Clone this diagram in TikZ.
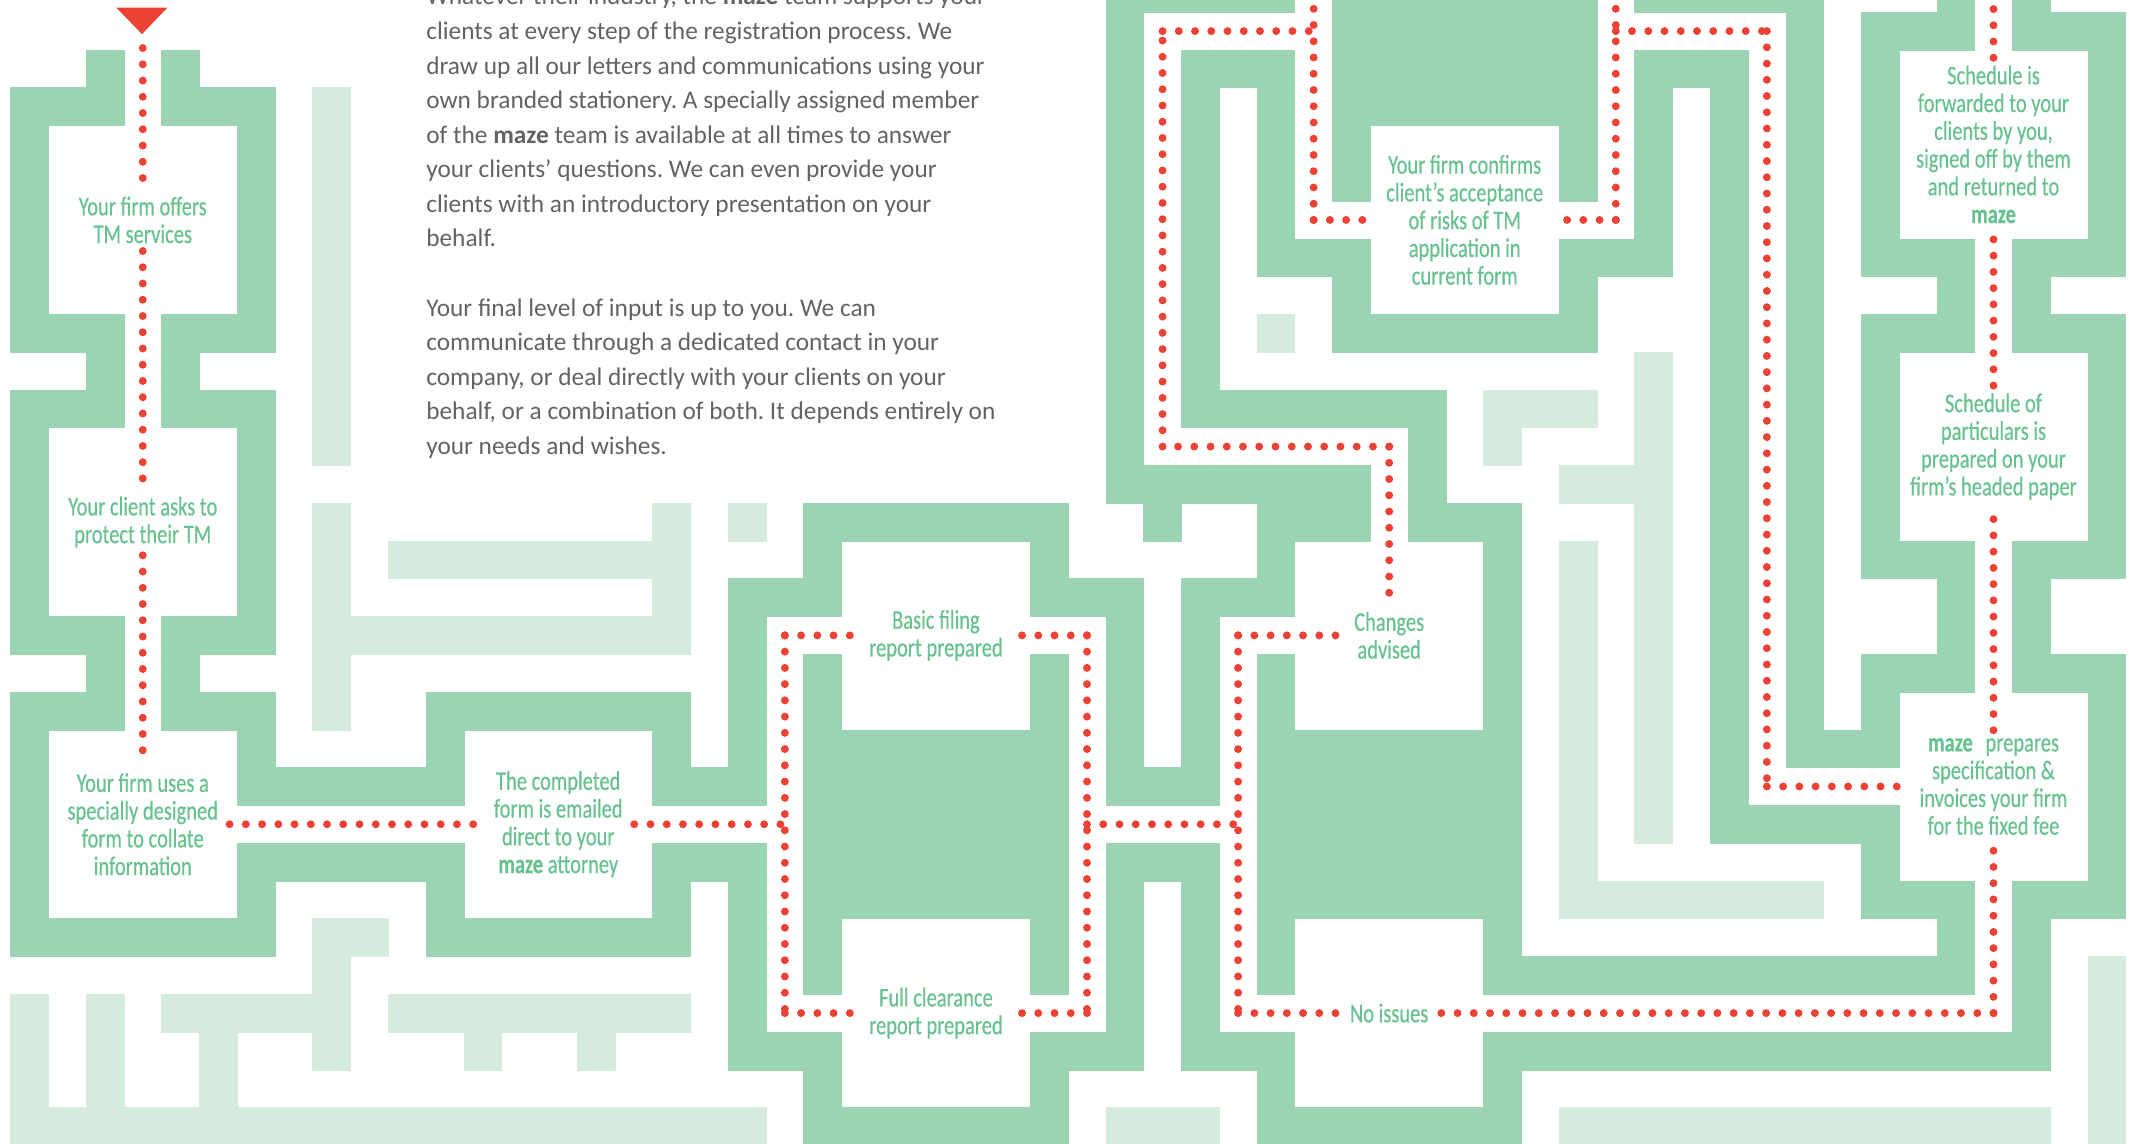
\documentclass[tikz,border=0pt]{standalone}
\usepackage{fontspec}
\setmainfont{Carlito}
\newfontfamily\labfam[FakeStretch=0.76,FakeBold=0.45]{Carlito}
\newfontfamily\bodyfam{Carlito}
\definecolor{dg}{RGB}{155,212,179}
\definecolor{lg}{RGB}{213,235,222}
\definecolor{rd}{RGB}{236,65,53}
\definecolor{tg}{RGB}{104,194,143}
\definecolor{bodygray}{RGB}{98,99,103}
\tikzset{
  wall/.style={fill=dg, draw=dg, line width=0.4pt},
  faint/.style={fill=lg, draw=lg, line width=0.4pt},
  route/.style={draw=rd, line width=0.21cm, line cap=round, dash pattern=on 0pt off 0.43cm},
  lab/.style={font=\labfam\fontsize{20.3}{20.9}\selectfont, text=tg, align=center, inner xsep=0.3cm, inner ysep=0.2cm},
  body/.style={font=\bodyfam\fontsize{19.1}{26}\selectfont, text=bodygray, anchor=base west, inner sep=0pt},
}
\frenchspacing
\begin{document}
\begin{tikzpicture}[x=1cm,y=-1cm]
\useasboundingbox (-0.28,-0.323) rectangle (56.353,29.965);
\fill[white] (-0.28,-0.323) rectangle (56.353,29.965);
\clip (-0.28,-0.323) rectangle (56.353,29.965);

% light green blocks
\foreach \r/\runs in {
 2/{8/9}, 3/{8/9}, 4/{8/9}, 5/{8/9}, 6/{8/9}, 7/{8/9},
 8/{8/9,33/34}, 9/{8/9,43/44}, 10/{8/9,39/42,43/44}, 11/{8/9,39/40,43/44},
 12/{41/44}, 13/{8/9,17/18,19/20,43/44}, 14/{8/9,10/18,41/42,43/44},
 15/{8/9,17/18,41/42,43/44}, 16/{8/18,41/42,43/44}, 17/{8/9,41/42,43/44},
 18/{8/9,41/42,43/44}, 19/{41/42,43/44}, 20/{41/42,43/44}, 21/{41/42,43/44},
 22/{41/42}, 23/{41/48}, 24/{8/10}, 25/{8/9,55/56},
 26/{0/1,2/3,4/9,10/18,55/56}, 27/{0/1,2/3,5/6,8/9,12/13,15/16,55/56},
 28/{0/1,2/3,5/6,55/56}, 29/{0/20,29/32,41/54,55/56}}
{\foreach \a/\b in \runs {\path[faint] (\a,\r) rectangle (\b,\r+1);}}

% dark green maze walls
\foreach \r/\runs in {
 -1/{29/34,35/42,43/48,51/52,53/54},
 0/{29/30,35/42,47/48,49/52,53/56},
 1/{2/3,4/5,29/30,31/34,35/42,43/46,47/48,49/50,55/56},
 2/{0/3,4/7,29/30,31/32,33/34,35/42,43/44,45/46,47/48,49/50,55/56},
 3/{0/1,6/7,29/30,31/32,33/34,35/36,41/42,43/44,45/46,47/48,49/50,55/56},
 4/{0/1,6/7,29/30,31/32,33/34,35/36,41/42,43/44,45/46,47/48,49/50,55/56},
 5/{0/1,6/7,29/30,31/32,33/34,43/44,45/46,47/48,49/50,55/56},
 6/{0/1,6/7,29/30,31/32,33/36,41/44,45/46,47/48,49/52,53/56},
 7/{0/1,6/7,29/30,31/32,35/36,41/42,45/46,47/48,51/52,53/54},
 8/{0/3,4/7,29/30,31/32,35/42,45/46,47/48,49/52,53/56},
 9/{2/3,4/5,29/30,31/32,45/46,47/48,49/50,55/56},
 10/{0/3,4/7,29/30,31/38,45/46,47/48,49/50,55/56},
 11/{0/1,6/7,29/30,37/38,45/46,47/48,49/50,55/56},
 12/{0/1,6/7,29/36,37/38,45/46,47/48,49/50,55/56},
 13/{0/1,6/7,21/28,30/31,33/36,37/40,45/46,47/48,49/50,55/56},
 14/{0/1,6/7,21/22,27/28,33/34,39/40,45/46,47/48,49/52,53/56},
 15/{0/1,6/7,19/22,27/30,31/34,39/40,45/46,47/48,51/52,53/54},
 16/{0/3,4/7,19/20,29/30,31/32,39/40,45/46,47/48,51/52,53/54},
 17/{2/3,4/5,19/20,21/22,27/28,29/30,31/32,33/34,39/40,45/46,47/48,49/52,53/56},
 18/{0/3,4/7,11/18,19/20,21/22,27/28,29/30,31/32,33/34,39/40,45/46,47/48,49/50,55/56},
 19/{0/1,6/7,11/12,17/18,19/20,21/28,29/30,31/32,33/40,45/46,47/50,55/56},
 20/{0/1,6/12,17/20,21/28,29/32,33/40,45/46,55/56},
 21/{0/1,21/28,33/40,45/50,55/56},
 22/{0/1,6/12,17/20,21/28,29/32,33/40,49/50,55/56},
 23/{0/1,6/7,11/12,17/18,19/20,21/28,29/30,31/32,33/40,49/52,53/56},
 24/{0/7,11/18,19/20,21/22,27/28,29/30,31/32,33/34,39/40,51/52,53/54},
 25/{19/20,21/22,27/28,29/30,31/32,33/34,39/52,53/54},
 26/{19/20,29/30,31/32,53/54},
 27/{19/22,27/30,31/34,39/54},
 28/{21/22,27/28,33/34,39/40},
 29/{21/28,33/40}}
{\foreach \a/\b in \runs {\path[wall] (\a,\r) rectangle (\b,\r+1);}}

% start marker
\fill[rd] (2.8,-0.12) -- (4.15,-0.12) -- (3.48,0.58) -- cycle;

% step labels
\node[lab] (L1) at (3.5,5.5) {Your firm offers\\TM services};
\node[lab] (L2) at (3.5,13.5) {Your client asks to\\protect their TM};
\node[lab] (L3) at (3.5,21.5) {Your firm uses a\\specially designed\\form to collate\\information};
\node[lab] (L4) at (14.5,21.5) {The completed\\form is emailed\\direct to your\\\textbf{maze} attorney};
\node[lab] (L5) at (24.5,16.5) {Basic filing\\report prepared};
\node[lab] (L6) at (24.5,26.5) {Full clearance\\report prepared};
\node[lab] (L7) at (36.5,16.5) {Changes\\advised};
\node[lab] (L8) at (36.5,26.5) {No issues};
\node[lab] (L9) at (38.5,5.5) {Your firm confirms\\client’s acceptance\\of risks of TM\\application in\\current form};
\node[lab] (L10) at (52.5,3.5) {Schedule is\\forwarded to your\\clients by you,\\signed off by them\\and returned to\\\textbf{maze}};
\node[lab] (L11) at (52.5,11.5) {Schedule of\\particulars is\\prepared on your\\firm’s headed paper};
\node[lab] (L12) at (52.5,20.5) {\textbf{maze}\hspace{0.3em} prepares\\specification \&\\invoices your firm\\for the fixed fee};

% route points
\coordinate (start) at (3.5,0.95);
\coordinate (a1) at (20.5,21.5);
\coordinate (a2) at (20.5,16.5);
\coordinate (a3) at (28.5,16.5);
\coordinate (a4) at (28.5,26.5);
\coordinate (a5) at (20.5,26.5);
\coordinate (a6) at (28.5,21.5);
\coordinate (b1) at (32.5,21.5);
\coordinate (b2) at (32.5,16.5);
\coordinate (b3) at (32.5,26.5);
\coordinate (c1) at (36.5,11.5);
\coordinate (c2) at (30.5,11.5);
\coordinate (c3) at (30.5,0.5);
\coordinate (c4) at (34.5,0.5);
\coordinate (c5) at (34.5,-0.6);
\coordinate (c6) at (34.5,5.5);
\coordinate (d1) at (42.5,5.5);
\coordinate (d2) at (42.5,0.5);
\coordinate (d3) at (42.5,-0.6);
\coordinate (d4) at (46.5,0.5);
\coordinate (d5) at (46.5,20.5);
\coordinate (e1) at (52.5,26.5);
\coordinate (e2) at (52.5,-0.6);

% dotted route
\draw[route] (start) -- (L1);
\draw[route] (L1) -- (L2);
\draw[route] (L2) -- (L3);
\draw[route] (L3) -- (L4);
\draw[route] (L4) -- (a1);
\draw[route] (a2) -- (a5);
\draw[route] (a2) -- (L5);
\draw[route] (a3) -- (L5);
\draw[route] (a3) -- (a4);
\draw[route] (a4) -- (L6);
\draw[route] (a5) -- (L6);
\draw[route] (a6) -- (b1);
\draw[route] (b2) -- (b3);
\draw[route] (b2) -- (L7);
\draw[route] (b3) -- (L8);
\draw[route] (c1) -- (L7);
\draw[route] (c1) -- (c2);
\draw[route] (c2) -- (c3);
\draw[route] (c3) -- (c4);
\draw[route] (c6) -- (c5);
\draw[route] (c6) -- (L9);
\draw[route] (d1) -- (L9);
\draw[route] (d1) -- (d3);
\draw[route] (d2) -- (d4);
\draw[route] (d4) -- (d5);
\draw[route] (d5) -- (L12);
\draw[route] (e1) -- (L8);
\draw[route] (e1) -- (L12);
\draw[route] (L12) -- (L11);
\draw[route] (L11) -- (L10);
\draw[route] (L10) -- (e2);

% body text
\foreach \t [count=\k from 0] in {
 {Whatever their industry, the \textbf{maze} team supports your},
 {clients at every step of the registration process. We},
 {draw up all our letters and communications using your},
 {own branded stationery. A specially assigned member},
 {of the \textbf{maze} team is available at all times to answer},
 {your clients’ questions. We can even provide your},
 {clients with an introductory presentation on your},
 {behalf.}}
{\node[body] (p\k) at (11,-0.195+0.9157*\k) {\t};}
\foreach \t [count=\k from 0] in {
 {Your final level of input is up to you. We can},
 {communicate through a dedicated contact in your},
 {company, or deal directly with your clients on your},
 {behalf, or a combination of both. It depends entirely on},
 {your needs and wishes.}}
{\node[body] (q\k) at (11,8.046+0.9157*\k) {\t};}
\end{tikzpicture}
\end{document}
